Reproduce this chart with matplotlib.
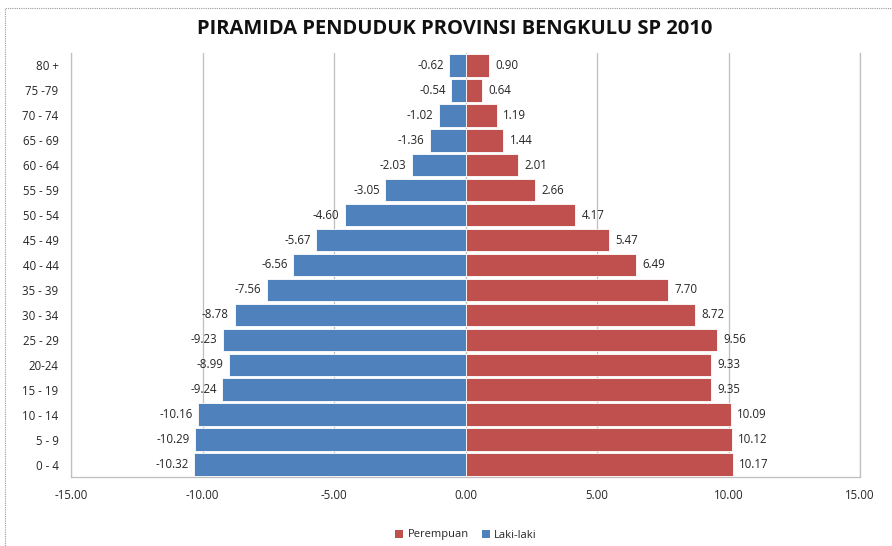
import matplotlib
matplotlib.use("Agg")
import matplotlib.pyplot as plt
from matplotlib.patches import Rectangle, Patch

ages = ['0 - 4', '5 - 9', '10 - 14', '15 - 19', '20-24', '25 - 29', '30 - 34',
        '35 - 39', '40 - 44', '45 - 49', '50 - 54', '55 - 59', '60 - 64',
        '65 - 69', '70 - 74', '75 -79', '80 +']
laki = [-10.32, -10.29, -10.16, -9.24, -8.99, -9.23, -8.78, -7.56, -6.56,
        -5.67, -4.60, -3.05, -2.03, -1.36, -1.02, -0.54, -0.62]
perempuan = [10.17, 10.12, 10.09, 9.35, 9.33, 9.56, 8.72, 7.70, 6.49,
             5.47, 4.17, 2.66, 2.01, 1.44, 1.19, 0.64, 0.90]
xticks = [-15, -10, -5, 0, 5, 10, 15]

blue = '#4F81BD'
red = '#C0504D'
font = 'Open Sans'
txt = '#262626'

fig = plt.figure(figsize=(8.92, 5.46), dpi=100)
ax = fig.add_axes([71/892, 1-477/546, (860-71)/892, (477-53)/546])

y = list(range(len(ages)))
ax.barh(y, laki, height=0.9, color=blue, edgecolor='white', linewidth=0.6, zorder=3)
ax.barh(y, perempuan, height=0.9, color=red, edgecolor='white', linewidth=0.6, zorder=3)

for yi, v in zip(y, laki):
    ax.annotate(f'{v:.2f}', (v, yi), xytext=(-4, 0), textcoords='offset points',
                ha='right', va='center', fontsize=8.3, family=font, color=txt)
for yi, v in zip(y, perempuan):
    ax.annotate(f'{v:.2f}', (v, yi), xytext=(4.5, 0), textcoords='offset points',
                ha='left', va='center', fontsize=8.3, family=font, color=txt)

ax.set_xlim(-15, 15)
ax.set_ylim(-0.5, 16.5)
ax.set_xticks(xticks)
ax.set_xticklabels([f'{t:.2f}' for t in xticks], family=font, fontsize=8.3)
ax.set_yticks(y)
ax.set_yticklabels(ages, family=font, fontsize=8.3)
ax.tick_params(axis='both', length=0, colors=txt)
ax.tick_params(axis='x', pad=8.5)
ax.tick_params(axis='y', pad=9)
ax.xaxis.grid(True, color='#BFBFBF', linewidth=0.9, zorder=0)
ax.set_axisbelow(True)
for s in ['left', 'right', 'bottom']:
    ax.spines[s].set_color('#BFBFBF')
    ax.spines[s].set_linewidth(0.9)
ax.spines['top'].set_visible(False)

fig.text(455/892, 1-29/546, 'PIRAMIDA PENDUDUK PROVINSI BENGKULU SP 2010',
         ha='center', va='center', fontsize=14.5, fontweight='bold', family=font,
         color='#111111')

handles = [Patch(facecolor=red, label='Perempuan'), Patch(facecolor=blue, label='Laki-laki')]
fig.legend(handles=handles, loc='center', bbox_to_anchor=(466/892, 1-535/546), ncol=2,
           frameon=False, prop={'family': font, 'size': 8}, handlelength=0.7,
           handleheight=0.7, handletextpad=0.4, columnspacing=1.2,
           labelcolor=txt)

# outer chart border
fig.patches.append(Rectangle((5/892, -0.1), 1.2, 1-8/546+0.1, transform=fig.transFigure,
                             fill=False, edgecolor='#9A9A9A', linewidth=0.8, linestyle=(0, (1, 1))))

fig.savefig('out.png', dpi=100)
